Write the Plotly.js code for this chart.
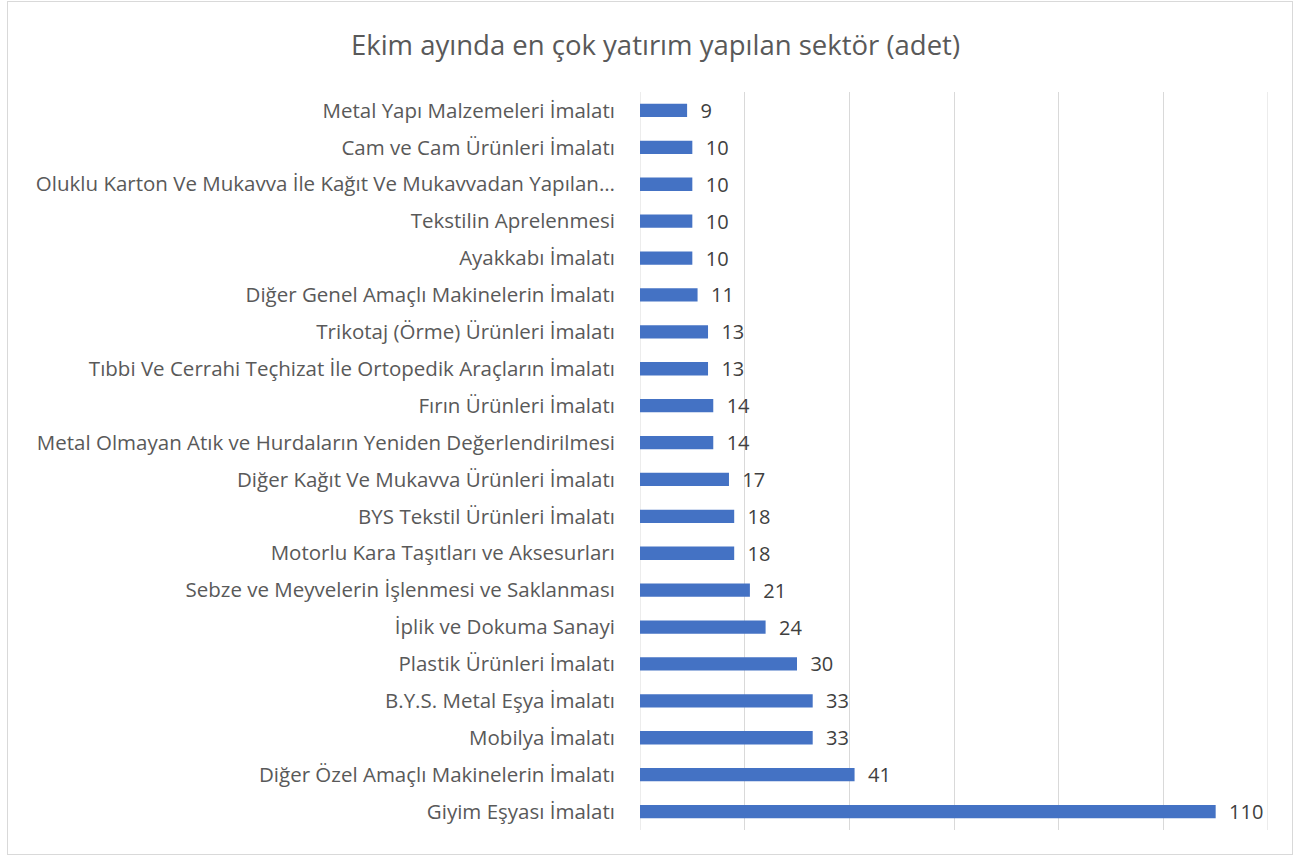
<!DOCTYPE html>
<html>
<head>
<meta charset="utf-8">
<script src="https://cdn.plot.ly/plotly-3.0.1.min.js"></script>
<style>
html,body{margin:0;padding:0;background:#fff;}
#wrap{position:relative;width:1298px;height:856px;}
#chart{position:absolute;left:0;top:0;width:1298px;height:856px;}
#border{position:absolute;left:7px;top:1px;width:1284px;height:852px;border:1px solid #d9d9d9;pointer-events:none;}
</style>
</head>
<body>
<div id="wrap"><div id="chart"></div><div id="border"></div></div>
<script>
const sectors = [
  "Metal Yapı Malzemeleri İmalatı",
  "Cam ve Cam Ürünleri İmalatı",
  "Oluklu Karton Ve Mukavva İle Kağıt Ve Mukavvadan Yapılan…",
  "Tekstilin Aprelenmesi",
  "Ayakkabı İmalatı",
  "Diğer Genel Amaçlı Makinelerin İmalatı",
  "Trikotaj (Örme) Ürünleri İmalatı",
  "Tıbbi Ve Cerrahi Teçhizat İle Ortopedik Araçların İmalatı",
  "Fırın Ürünleri İmalatı",
  "Metal Olmayan Atık ve Hurdaların Yeniden Değerlendirilmesi",
  "Diğer Kağıt Ve Mukavva Ürünleri İmalatı",
  "BYS Tekstil Ürünleri İmalatı",
  "Motorlu Kara Taşıtları ve Aksesurları",
  "Sebze ve Meyvelerin İşlenmesi ve Saklanması",
  "İplik ve Dokuma Sanayi",
  "Plastik Ürünleri İmalatı",
  "B.Y.S. Metal Eşya İmalatı",
  "Mobilya İmalatı",
  "Diğer Özel Amaçlı Makinelerin İmalatı",
  "Giyim Eşyası İmalatı"
];
const counts = [9,10,10,10,10,11,13,13,14,14,17,18,18,21,24,30,33,33,41,110];

const trace = {
  type: 'bar',
  orientation: 'h',
  x: counts,
  y: sectors,
  marker: {color: '#4472C4'},
  text: counts.map(v => '\u00a0\u00a0' + v),
  textposition: 'outside',
  constraintext: 'none',
  textfont: {family: 'Open Sans, sans-serif', size: 20, color: '#404040'},
  cliponaxis: false,
  hoverinfo: 'x+y'
};

const layout = {
  width: 1298,
  height: 856,
  margin: {l: 640, r: 30, t: 92, b: 26, pad: 0},
  paper_bgcolor: '#ffffff',
  plot_bgcolor: '#ffffff',
  bargap: 0.64,
  showlegend: false,
  uniformtext: {mode: false},
  title: {
    text: 'Ekim ayında en çok yatırım yapılan sektör (adet)',
    font: {family: 'Open Sans, sans-serif', size: 27.5, color: '#595959'},
    x: 0.505, xref: 'container', xanchor: 'center',
    y: 0.947, yref: 'container', yanchor: 'middle'
  },
  xaxis: {
    range: [0, 120],
    dtick: 20,
    showgrid: true,
    gridcolor: '#d9d9d9',
    gridwidth: 1,
    zeroline: false,
    showline: false,
    showticklabels: false,
    ticks: '',
    fixedrange: true
  },
  yaxis: {
    type: 'category',
    autorange: 'reversed',
    showgrid: false,
    zeroline: false,
    showline: false,
    ticks: 'outside',
    ticklen: 20,
    tickcolor: 'rgba(0,0,0,0)',
    tickfont: {family: 'Open Sans, sans-serif', size: 20.5, color: '#595959'},
    automargin: false
  },
  shapes: [
    {type: 'line', xref: 'x', yref: 'paper', x0: 0, x1: 0, y0: 0, y1: 1,
     line: {color: '#d9d9d9', width: 1}, layer: 'below'},
    {type: 'line', xref: 'x', yref: 'paper', x0: 120, x1: 120, y0: 0, y1: 1,
     line: {color: '#d9d9d9', width: 1}, layer: 'below'}
  ]
};

Plotly.newPlot('chart', [trace], layout, {displayModeBar: false, staticPlot: true});
</script>
</body>
</html>
